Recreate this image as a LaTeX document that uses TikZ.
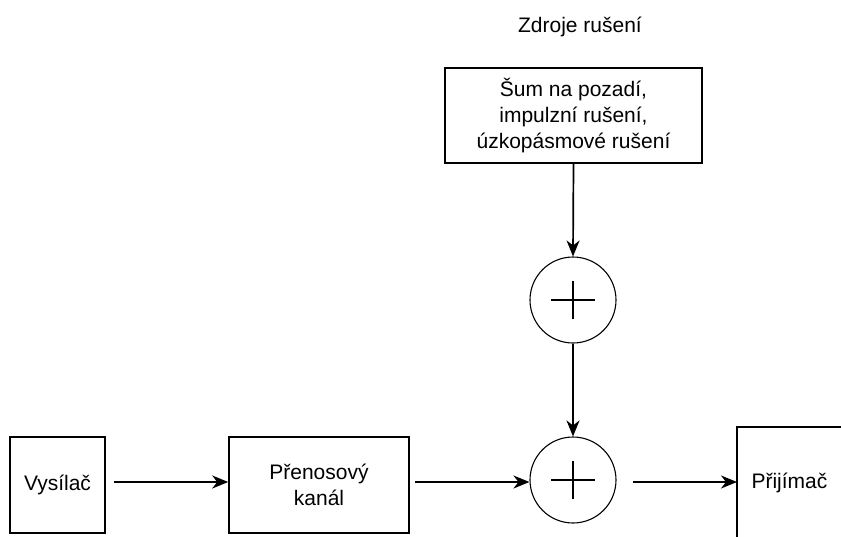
\documentclass[tikz,border=0pt]{standalone}
\usepackage{fontspec}
\setmainfont{Liberation Sans}
\usetikzlibrary{arrows.meta}
\begin{document}
\begin{tikzpicture}[x=1pt,y=-1pt,
  blk/.style={draw,line width=1.6pt,inner sep=0pt,align=center,font=\fontsize{21}{26}\selectfont},
  sumc/.style={draw,circle,line width=1.1pt,minimum size=86pt,inner sep=0pt},
  arr/.style={line width=1.7pt,-{Stealth[length=16pt,width=13pt,inset=5pt]}},
  lbl/.style={font=\fontsize{21}{26}\selectfont}]
\useasboundingbox (0,0) rectangle (841,536);
\node[blk,minimum width=95pt,minimum height=96pt] (tx) at (57.5,485) {Vysílač};
\node[blk,minimum width=180pt,minimum height=96pt] (ch) at (319,485) {Přenosový\\kanál};
\node[sumc] (s2) at (573,480) {};
\node[sumc] (s1) at (573,300) {};
\draw[line width=1.3pt] (551,480) -- (595,480) (573,461) -- (573,499);
\draw[line width=1.3pt] (551,300) -- (595,300) (573,281) -- (573,319);
\node[blk,minimum width=257pt,minimum height=95pt] (ns) at (573.5,115.5) {Šum na pozadí,\\impulzní rušení,\\úzkopásmové rušení};
\node[lbl] (zr) at (580,27) {Zdroje rušení};
\draw[line width=1.6pt] (737,540) -- (737,427) -- (845,427);
\coordinate (rxl) at (737,482);
\node[lbl,anchor=west] (rx) at (748,483) {Přijímač};
\coordinate (a1) at (114,482);
\coordinate (a2) at (415,482);
\coordinate (a3) at (633,482);
\draw[arr] (a1) -- (ch.west |- a1);
\draw[arr] (a2) -- (s2.west |- a2);
\draw[arr] (a3) -- (rxl);
\draw[arr] (ns.south) -- (s1.north);
\draw[arr] (s1.south) -- (s2.north);
\end{tikzpicture}
\end{document}
